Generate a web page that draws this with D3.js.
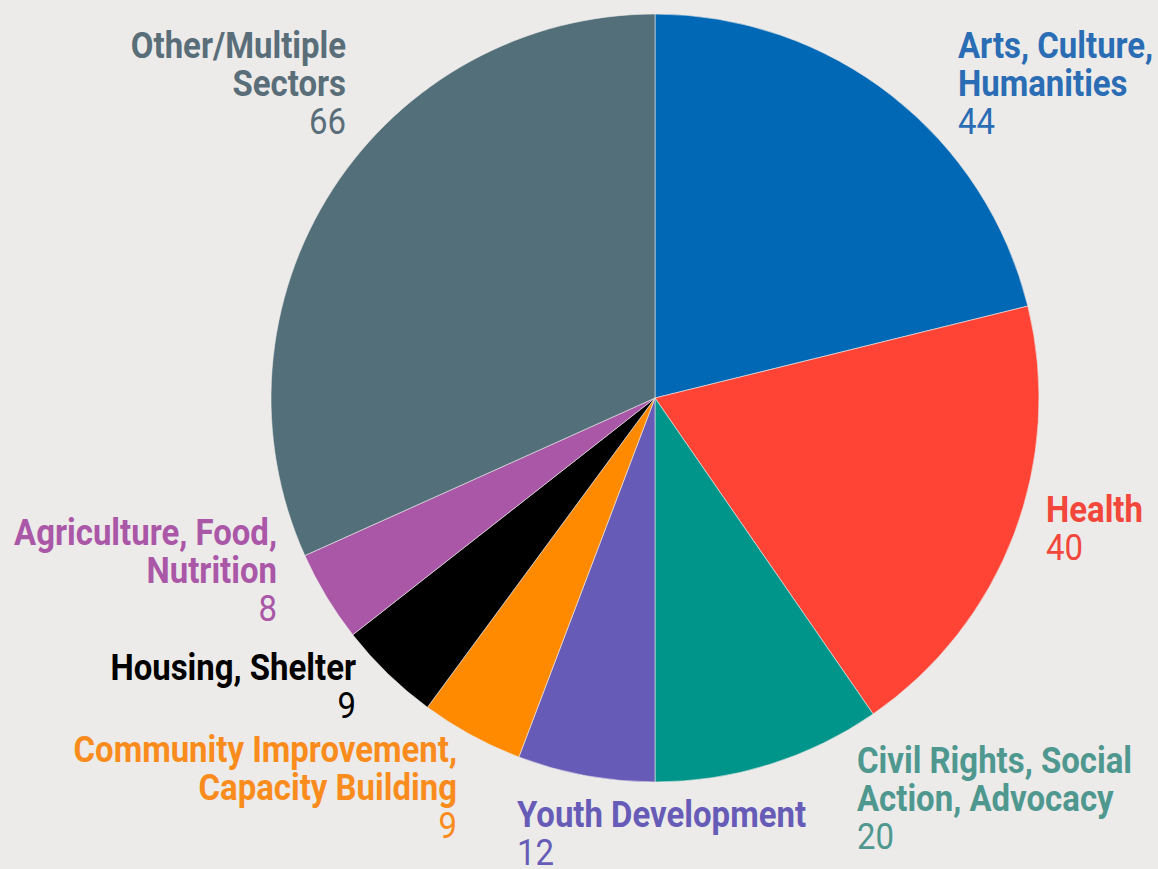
<!DOCTYPE html>
<html>
<head>
<meta charset="utf-8">
<script src="https://cdn.jsdelivr.net/npm/d3@7"></script>
<style>
  html, body { margin: 0; padding: 0; background: #ecebe9; }
  svg { display: block; }
  text { font-family: "Roboto", "Liberation Sans", sans-serif; }
</style>
</head>
<body>
<div id="chart"></div>
<script>
// donnees
var sectors = ["Arts, Culture, Humanities", "Health", "Civil Rights, Social Action, Advocacy",
  "Youth Development", "Community Improvement, Capacity Building", "Housing, Shelter",
  "Agriculture, Food, Nutrition", "Other/Multiple Sectors"];
var counts = [44, 40, 20, 12, 9, 9, 8, 66];
var labelLines = [
  ["Arts, Culture,", "Humanities"],
  ["Health"],
  ["Civil Rights, Social", "Action, Advocacy"],
  ["Youth Development"],
  ["Community Improvement,", "Capacity Building"],
  ["Housing, Shelter"],
  ["Agriculture, Food,", "Nutrition"],
  ["Other/Multiple", "Sectors"]
];
var sliceColors = ["#0068b5", "#ff4436", "#00958a", "#675bb8", "#ff8a00", "#000000", "#ab57a8", "#526f7a"];
var textColors = ["#2a6db5", "#f2473a", "#4f9890", "#675bb8", "#f98c1c", "#000000", "#ab57a8", "#5a6e7a"];

// position des etiquettes (x, baseline de la 1ere ligne, ancrage)
var labelPos = [
  [958, 58, "start"],
  [1046, 522, "start"],
  [857, 773, "start"],
  [517, 827, "start"],
  [457, 762, "end"],
  [356, 680, "end"],
  [277, 545, "end"],
  [346, 58, "end"]
];

var width = 1158, height = 869;
var cx = 655, cy = 398, radius = 384;
var lineH = 38;
var squeeze = 0.89; // police condensee simulee

var svg = d3.select("#chart")
  .append("svg")
  .attr("width", width)
  .attr("height", height);

var pie = d3.pie().sort(null).value(function (d) { return d; });
var arc = d3.arc().innerRadius(0).outerRadius(radius);

var g = svg.append("g").attr("transform", "translate(" + cx + "," + cy + ")");

g.selectAll("path")
  .data(pie(counts))
  .enter()
  .append("path")
  .attr("d", arc)
  .attr("fill", function (d, i) { return sliceColors[i]; })
  .attr("stroke", "#ecebe9")
  .attr("stroke-width", 0.6);

// etiquettes
var labels = svg.selectAll("g.label")
  .data(sectors)
  .enter()
  .append("g")
  .attr("class", "label")
  .attr("transform", function (d, i) {
    return "translate(" + labelPos[i][0] + ",0) scale(" + squeeze + ",1)";
  });

labels.each(function (name, i) {
  var p = labelPos[i];
  var t = d3.select(this).append("text")
    .attr("x", 0)
    .attr("y", p[1])
    .attr("text-anchor", p[2])
    .attr("fill", textColors[i])
    .style("font-size", "37px");
  labelLines[i].forEach(function (line, k) {
    t.append("tspan")
      .attr("x", 0)
      .attr("y", p[1] + k * lineH)
      .style("font-weight", "bold")
      .text(line);
  });
  t.append("tspan")
    .attr("x", 0)
    .attr("y", p[1] + labelLines[i].length * lineH)
    .style("font-weight", "normal")
    .text(counts[i]);
});
</script>
</body>
</html>
